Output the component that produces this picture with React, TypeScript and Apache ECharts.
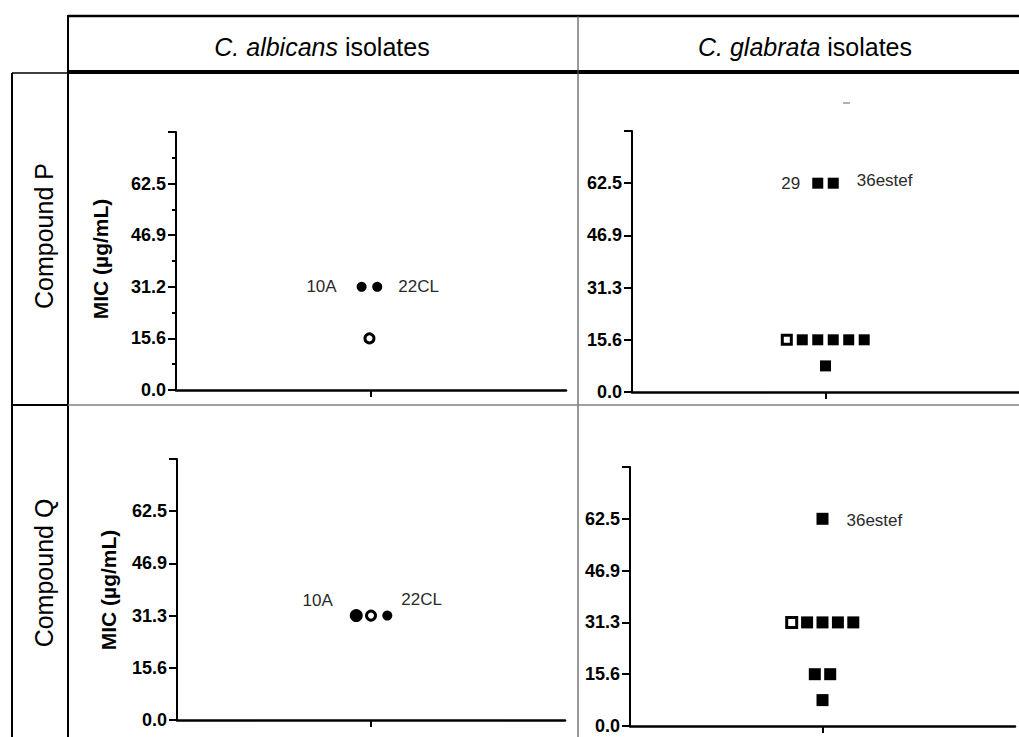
import React, { useEffect, useRef } from 'react';
import * as echarts from 'echarts';

// ---------- data ----------
const columnSpecies = ['C. albicans', 'C. glabrata'];
const columnSuffix = ' isolates';
const rowTitles = ['Compound P', 'Compound Q'];
const yAxisTitle = 'MIC (µg/mL)';
const micMax = 78.125;
const micStep = 15.625;
const tickLabelsPAlbicans = ['0.0', '15.6', '31.2', '46.9', '62.5'];
const tickLabelsOther = ['0.0', '15.6', '31.3', '46.9', '62.5'];

// [horizontal jitter offset, MIC µg/mL]
const pAlbicansFilled = [[-0.6, 31.25], [0.4, 31.25]];
const pAlbicansOpen = [[-0.1, 15.625]];
const pAlbicansNames = ['10A', '22CL'];

const pGlabrataFilled = [
  [-0.5, 62.5], [0.5, 62.5],
  [-1.5, 15.625], [-0.5, 15.625], [0.5, 15.625], [1.5, 15.625], [2.5, 15.625],
  [0, 7.8125],
];
const pGlabrataOpen = [[-2.5, 15.625]];
const pGlabrataNames = ['29', '36estef'];

const qAlbicansLarge = [[-0.95, 31.25]];
const qAlbicansOpen = [[0, 31.25]];
const qAlbicansSmall = [[1.05, 31.25]];
const qAlbicansNames = ['10A', '22CL'];

const qGlabrataFilled = [
  [0, 62.5],
  [-1, 31.25], [0, 31.25], [1, 31.25], [2, 31.25],
  [-0.5, 15.625], [0.5, 15.625],
  [0, 7.8125],
];
const qGlabrataOpen = [[-2, 31.25]];
const qGlabrataNames = ['36estef'];

// ---------- styling ----------
const FONT = '"Liberation Sans", Arial, Helvetica, sans-serif';
const LABEL_STYLE = { fontSize: 17, color: '#2a2a2a', fontFamily: FONT };

function yAxisFor(gridIndex: number, labels: string[], minor: boolean) {
  return {
    type: 'value',
    gridIndex,
    min: 0,
    max: micMax,
    interval: micStep,
    splitLine: { show: false },
    axisLine: { show: true, onZero: false, lineStyle: { color: '#000', width: 2 } },
    axisTick: { show: true, length: 8, lineStyle: { color: '#000', width: 2 } },
    minorTick: { show: minor, splitNumber: 2, length: 4, lineStyle: { color: '#000', width: 2 } },
    axisLabel: {
      margin: 10,
      fontSize: 18,
      fontWeight: 'bold',
      color: '#000',
      fontFamily: FONT,
      formatter: (v: number) => labels[Math.round(v / micStep)] ?? '',
    },
  };
}

function xAxisFor(gridIndex: number) {
  return {
    type: 'value',
    gridIndex,
    min: -12.5,
    max: 12.5,
    splitLine: { show: false },
    axisLine: { show: true, onZero: false, lineStyle: { color: '#000', width: 2.5 } },
    axisTick: { show: true, customValues: [0], length: 7, lineStyle: { color: '#000', width: 2 } },
    axisLabel: { show: false },
  };
}

function lbl(name: string, position: string, distance: number, offset: number[] = [0, 0]) {
  return { show: true, position, distance, offset, formatter: () => name, ...LABEL_STYLE };
}

function line(x1: number, y1: number, x2: number, y2: number, stroke: string, lineWidth: number) {
  return { type: 'line', silent: true, shape: { x1, y1, x2, y2 }, style: { stroke, lineWidth } };
}

function buildOption() {
  const filled = { color: '#000', opacity: 1 };
  const openStyle = { color: '#fff', borderColor: '#000', borderWidth: 3, opacity: 1 };

  const series: any[] = [
    // P / albicans
    {
      type: 'scatter', xAxisIndex: 0, yAxisIndex: 0, symbol: 'circle', symbolSize: 10,
      itemStyle: filled,
      data: pAlbicansFilled.map((p, i) => ({
        value: p,
        label: i === 0 ? lbl(pAlbicansNames[0], 'left', 20) : lbl(pAlbicansNames[1], 'right', 16),
      })),
    },
    {
      type: 'scatter', xAxisIndex: 0, yAxisIndex: 0, symbol: 'circle', symbolSize: 9,
      itemStyle: openStyle, data: pAlbicansOpen,
    },
    // P / glabrata
    {
      type: 'scatter', xAxisIndex: 1, yAxisIndex: 1, symbol: 'rect', symbolSize: 11,
      itemStyle: filled,
      data: pGlabrataFilled.map((p, i) => ({
        value: p,
        label: i === 0 ? lbl(pGlabrataNames[0], 'left', 12)
          : i === 1 ? lbl(pGlabrataNames[1], 'right', 18, [0, -3]) : undefined,
      })),
    },
    {
      type: 'scatter', xAxisIndex: 1, yAxisIndex: 1, symbol: 'rect', symbolSize: 9,
      itemStyle: openStyle, data: pGlabrataOpen,
    },
    // Q / albicans
    {
      type: 'scatter', xAxisIndex: 2, yAxisIndex: 2, symbol: 'circle', symbolSize: 13,
      itemStyle: filled,
      data: qAlbicansLarge.map((p) => ({ value: p, label: lbl(qAlbicansNames[0], 'left', 17, [0, -15]) })),
    },
    {
      type: 'scatter', xAxisIndex: 2, yAxisIndex: 2, symbol: 'circle', symbolSize: 9,
      itemStyle: openStyle, data: qAlbicansOpen,
    },
    {
      type: 'scatter', xAxisIndex: 2, yAxisIndex: 2, symbol: 'circle', symbolSize: 10,
      itemStyle: filled,
      data: qAlbicansSmall.map((p) => ({ value: p, label: lbl(qAlbicansNames[1], 'right', 9, [0, -16]) })),
    },
    // Q / glabrata
    {
      type: 'scatter', xAxisIndex: 3, yAxisIndex: 3, symbol: 'rect', symbolSize: 12,
      itemStyle: filled,
      data: qGlabrataFilled.map((p, i) => ({
        value: p,
        label: i === 0 ? lbl(qGlabrataNames[0], 'right', 18, [0, 2]) : undefined,
      })),
    },
    {
      type: 'scatter', xAxisIndex: 3, yAxisIndex: 3, symbol: 'rect', symbolSize: 10,
      itemStyle: openStyle, data: qGlabrataOpen,
    },
  ];
  series.forEach((s) => { s.clip = false; s.emphasis = { disabled: true }; });

  const header = (i: number, x: number) => ({
    type: 'text',
    x, y: 47,
    style: {
      text: `{i|${columnSpecies[i]}}${columnSuffix}`,
      rich: { i: { fontStyle: 'italic', fontSize: 25, fontFamily: FONT, fill: '#000' } },
      fontSize: 25, fontFamily: FONT, fill: '#000', align: 'center', verticalAlign: 'middle',
    },
  });
  const rotated = (text: string, x: number, y: number, size: number, bold: boolean) => ({
    type: 'text', x, y, rotation: Math.PI / 2,
    style: {
      text, fontSize: size, fontWeight: bold ? 'bold' : 'normal', fontFamily: FONT, fill: '#000',
      align: 'center', verticalAlign: 'middle',
    },
  });

  const graphic: any[] = [
    line(68, 16, 1019, 16, '#000', 2.5),
    line(68, 72, 1019, 72, '#000', 4),
    line(68, 15, 68, 737, '#000', 2),
    line(12, 73, 12, 737, '#000', 2),
    line(12, 73, 68, 73, '#000', 1.5),
    line(578, 16, 578, 737, '#555', 1.2),
    line(12, 405, 68, 405, '#000', 2),
    line(68, 405, 1019, 405, '#808080', 1.5),
    line(843, 103, 850, 103, '#999', 1.5),
    header(0, 322),
    header(1, 805),
    rotated(rowTitles[0], 44, 236, 25, false),
    rotated(rowTitles[1], 44, 573, 25, false),
    rotated(yAxisTitle, 100, 259, 21, true),
    rotated(yAxisTitle, 108, 590, 21, true),
  ];

  return {
    animation: false,
    backgroundColor: '#fff',
    textStyle: { fontFamily: FONT },
    grid: [
      { left: 176, top: 132, width: 390, height: 258 },
      { left: 632, top: 131, width: 388, height: 261 },
      { left: 177, top: 459, width: 388, height: 261 },
      { left: 630, top: 467, width: 385, height: 259 },
    ],
    xAxis: [xAxisFor(0), xAxisFor(1), xAxisFor(2), xAxisFor(3)],
    yAxis: [
      yAxisFor(0, tickLabelsPAlbicans, true),
      yAxisFor(1, tickLabelsOther, false),
      yAxisFor(2, tickLabelsOther, false),
      yAxisFor(3, tickLabelsOther, false),
    ],
    series,
    graphic,
  };
}

export default function App() {
  const ref = useRef<HTMLDivElement>(null);
  useEffect(() => {
    if (!ref.current) return;
    const chart = echarts.init(ref.current, undefined, { renderer: 'svg' });
    chart.setOption(buildOption() as any);
    return () => chart.dispose();
  }, []);
  return (
    <div
      ref={ref}
      style={{ position: 'absolute', left: 0, top: 0, width: 1019, height: 737, background: '#fff' }}
    />
  );
}
